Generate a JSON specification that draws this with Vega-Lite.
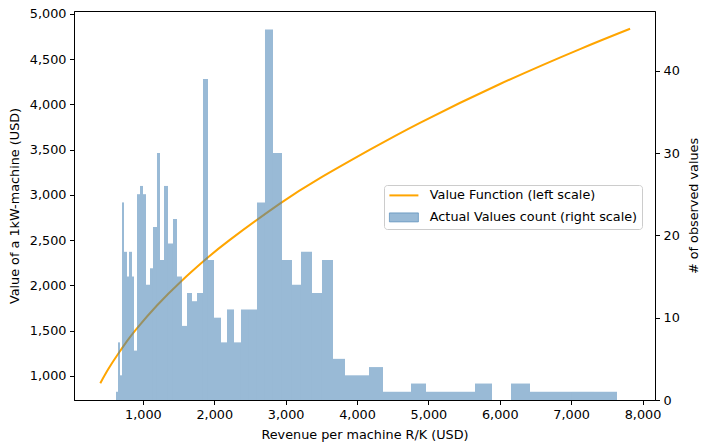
{
  "$schema": "https://vega.github.io/schema/vega-lite/v6.json",
  "width": 581,
  "height": 389,
  "autosize": "none",
  "padding": {"left": 74, "top": 11, "right": 46, "bottom": 47},
  "background": "white",
  "config": {
    "font": "DejaVu Sans",
    "view": {"stroke": "black", "strokeWidth": 1},
    "axis": {
      "domainColor": "black", "tickColor": "black", "labelColor": "black", "titleColor": "black",
      "labelFont": "DejaVu Sans", "titleFont": "DejaVu Sans", "labelFontSize": 12.8, "titleFontSize": 12.8,
      "titleFontWeight": "normal", "grid": false, "tickSize": 4.5, "labelPadding": 3.5,
      "domainWidth": 1, "tickWidth": 1
    }
  },
  "datasets": {
    "bins": [
      {"bin_start": 623.43, "bin_end": 651.45, "count": 1},
      {"bin_start": 651.45, "bin_end": 679.47, "count": 7},
      {"bin_start": 679.47, "bin_end": 707.49, "count": 3},
      {"bin_start": 707.49, "bin_end": 735.52, "count": 24},
      {"bin_start": 735.52, "bin_end": 777.55, "count": 18},
      {"bin_start": 777.55, "bin_end": 805.57, "count": 15},
      {"bin_start": 805.57, "bin_end": 847.6, "count": 18},
      {"bin_start": 847.6, "bin_end": 875.62, "count": 15},
      {"bin_start": 875.62, "bin_end": 917.65, "count": 6},
      {"bin_start": 917.65, "bin_end": 959.68, "count": 25},
      {"bin_start": 959.68, "bin_end": 1001.71, "count": 26},
      {"bin_start": 1001.71, "bin_end": 1043.74, "count": 25},
      {"bin_start": 1043.74, "bin_end": 1099.78, "count": 14},
      {"bin_start": 1099.78, "bin_end": 1141.81, "count": 16},
      {"bin_start": 1141.81, "bin_end": 1197.85, "count": 21},
      {"bin_start": 1197.85, "bin_end": 1239.89, "count": 30},
      {"bin_start": 1239.89, "bin_end": 1295.93, "count": 17},
      {"bin_start": 1295.93, "bin_end": 1351.97, "count": 26},
      {"bin_start": 1351.97, "bin_end": 1422.02, "count": 19},
      {"bin_start": 1422.02, "bin_end": 1478.06, "count": 22},
      {"bin_start": 1478.06, "bin_end": 1548.11, "count": 15},
      {"bin_start": 1548.11, "bin_end": 1618.16, "count": 9},
      {"bin_start": 1618.16, "bin_end": 1688.22, "count": 13},
      {"bin_start": 1688.22, "bin_end": 1758.27, "count": 12},
      {"bin_start": 1758.27, "bin_end": 1842.33, "count": 13},
      {"bin_start": 1842.33, "bin_end": 1912.38, "count": 39},
      {"bin_start": 1912.38, "bin_end": 1996.44, "count": 17},
      {"bin_start": 1996.44, "bin_end": 2094.51, "count": 10},
      {"bin_start": 2094.51, "bin_end": 2178.58, "count": 7},
      {"bin_start": 2178.58, "bin_end": 2276.65, "count": 11},
      {"bin_start": 2276.65, "bin_end": 2374.72, "count": 7},
      {"bin_start": 2374.72, "bin_end": 2486.8, "count": 11},
      {"bin_start": 2486.8, "bin_end": 2598.88, "count": 11},
      {"bin_start": 2598.88, "bin_end": 2710.97, "count": 24},
      {"bin_start": 2710.97, "bin_end": 2823.05, "count": 45},
      {"bin_start": 2823.05, "bin_end": 2949.14, "count": 30},
      {"bin_start": 2949.14, "bin_end": 3089.25, "count": 17},
      {"bin_start": 3089.25, "bin_end": 3215.34, "count": 14},
      {"bin_start": 3215.34, "bin_end": 3369.45, "count": 18},
      {"bin_start": 3369.45, "bin_end": 3509.55, "count": 13},
      {"bin_start": 3509.55, "bin_end": 3663.67, "count": 17},
      {"bin_start": 3663.67, "bin_end": 3831.79, "count": 5},
      {"bin_start": 3831.79, "bin_end": 3999.91, "count": 3},
      {"bin_start": 3999.91, "bin_end": 4168.04, "count": 3},
      {"bin_start": 4168.04, "bin_end": 4364.18, "count": 4},
      {"bin_start": 4364.18, "bin_end": 4546.32, "count": 1},
      {"bin_start": 4546.32, "bin_end": 4756.47, "count": 1},
      {"bin_start": 4756.47, "bin_end": 4966.63, "count": 2},
      {"bin_start": 4966.63, "bin_end": 5176.78, "count": 1},
      {"bin_start": 5176.78, "bin_end": 5400.94, "count": 1},
      {"bin_start": 5400.94, "bin_end": 5653.13, "count": 1},
      {"bin_start": 5653.13, "bin_end": 5891.31, "count": 2},
      {"bin_start": 6157.5, "bin_end": 6423.7, "count": 2},
      {"bin_start": 6423.7, "bin_end": 6717.91, "count": 1},
      {"bin_start": 6717.91, "bin_end": 7012.13, "count": 1},
      {"bin_start": 7012.13, "bin_end": 7320.36, "count": 1},
      {"bin_start": 7320.36, "bin_end": 7642.59, "count": 1}
    ],
    "vf": [
      {"revenue": 403, "value": 920},
      {"revenue": 520, "value": 1082},
      {"revenue": 650, "value": 1240},
      {"revenue": 780, "value": 1387},
      {"revenue": 908, "value": 1518},
      {"revenue": 1200, "value": 1781},
      {"revenue": 1538, "value": 2047},
      {"revenue": 1864, "value": 2277},
      {"revenue": 2214, "value": 2500},
      {"revenue": 2914, "value": 2900},
      {"revenue": 3475, "value": 3182},
      {"revenue": 4175, "value": 3496},
      {"revenue": 4875, "value": 3793},
      {"revenue": 5996, "value": 4221},
      {"revenue": 7116, "value": 4607},
      {"revenue": 7826, "value": 4834}
    ]
  },
  "layer": [
    {
      "data": {"name": "vf"},
      "mark": {"type": "line", "strokeWidth": 2, "interpolate": "natural"},
      "encoding": {
        "x": {
          "field": "revenue", "type": "quantitative",
          "scale": {"domain": [35, 8175], "nice": false, "zero": false},
          "axis": {"title": "Revenue per machine R/K (USD)", "values": [1000, 2000, 3000, 4000, 5000, 6000, 7000, 8000], "format": ",.0f", "titlePadding": 8}
        },
        "y": {
          "field": "value", "type": "quantitative",
          "scale": {"domain": [735, 5030], "nice": false, "zero": false},
          "axis": {"orient": "left", "title": "Value of a 1kW-machine (USD)", "values": [1000, 1500, 2000, 2500, 3000, 3500, 4000, 4500, 5000], "format": ",.0f", "titlePadding": 8}
        },
        "color": {
          "datum": "Value Function (left scale)", "type": "nominal",
          "scale": {"domain": ["Value Function (left scale)", "Actual Values count (right scale)"], "range": ["orange", "#4682b4"]},
          "legend": {
            "orient": "none", "legendX": 310, "legendY": 174, "title": null,
            "labelFont": "DejaVu Sans", "labelFontSize": 12.8, "labelColor": "black", "labelLimit": 400,
            "symbolSize": 100, "labelOffset": 29, "padding": 4, "rowPadding": 7,
            "strokeColor": "#cccccc", "cornerRadius": 3, "fillColor": "white",
            "encode": {
              "symbols": {
                "update": {
                  "shape": {"signal": "datum.value === 'Value Function (left scale)' ? 'M-1,0H4.8' : 'M-1,-0.9H4.8V0.9H-1Z'"},
                  "fill": {"signal": "datum.value === 'Value Function (left scale)' ? 'transparent' : '#4682b4'"},
                  "fillOpacity": {"value": 0.55},
                  "stroke": {"signal": "datum.value === 'Value Function (left scale)' ? 'orange' : '#4682b4'"},
                  "strokeOpacity": {"signal": "datum.value === 'Value Function (left scale)' ? 1 : 0.6"},
                  "strokeWidth": {"signal": "datum.value === 'Value Function (left scale)' ? 2 : 1"},
                  "opacity": {"value": 1}
                }
              }
            }
          }
        }
      }
    },
    {
      "data": {"name": "bins"},
      "mark": {"type": "bar", "opacity": 0.55},
      "encoding": {
        "x": {"field": "bin_start", "type": "quantitative"},
        "x2": {"field": "bin_end"},
        "y": {
          "field": "count", "type": "quantitative",
          "scale": {"domain": [0, 47.25], "nice": false},
          "axis": {"orient": "right", "title": "# of observed values", "values": [0, 10, 20, 30, 40], "titleAngle": 270, "titleBaseline": "top", "titlePadding": 8}
        },
        "y2": {"datum": 0},
        "color": {"datum": "Actual Values count (right scale)", "type": "nominal"}
      }
    }
  ],
  "resolve": {"scale": {"y": "independent"}}
}
